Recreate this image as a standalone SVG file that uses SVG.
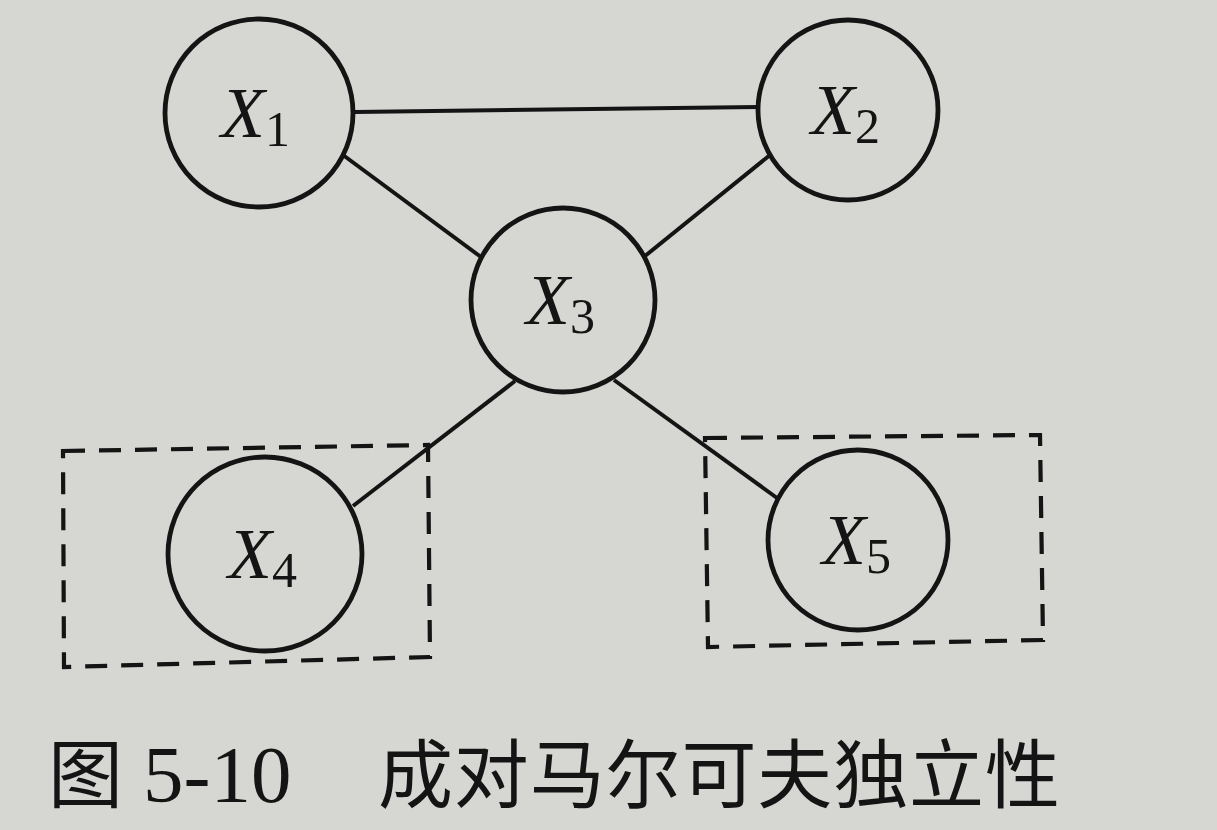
<svg xmlns="http://www.w3.org/2000/svg" width="1217" height="830" viewBox="0 0 1217 830">
<style>
.bg{fill:#d6d6d3}
.node{fill:none;stroke:#141414;stroke-width:4.8}
.edge{stroke:#141414;stroke-width:4;fill:none}
.box{fill:none;stroke:#141414;stroke-width:4.2;stroke-dasharray:22,14}
.lbl{font-family:"Liberation Serif",serif;font-style:italic;font-size:72px;fill:#141414}
.sub{font-style:normal;font-size:50px}
.cap{font-family:"Liberation Serif","Noto Sans CJK SC",serif;font-size:81px;fill:#141414}
.capzh{font-family:"Noto Sans CJK SC",sans-serif;font-size:75px;fill:#141414}
</style>
<rect class="bg" x="0" y="0" width="1217" height="830"/>
<g id="connectors">
<line class="edge" x1="355" y1="112" x2="758" y2="107"/>
<line class="edge" x1="343" y1="155" x2="481" y2="257"/>
<line class="edge" x1="770" y1="155" x2="645" y2="256"/>
<line class="edge" x1="515" y1="381" x2="353" y2="506"/>
<line class="edge" x1="614" y1="380" x2="777" y2="498"/>
</g>
<g id="box4"><path class="box" d="M63,451 L428,445 L430,657 L64,667 Z"/></g>
<g id="box5"><path class="box" d="M705,438 L1040,435 L1043,640 L708,647 Z"/></g>
<g id="X1"><circle class="node" cx="259" cy="113" r="94"/><text class="lbl" x="221" y="137">X<tspan class="sub" dy="9">1</tspan></text></g>
<g id="X2"><circle class="node" cx="848" cy="110" r="90"/><text class="lbl" x="811" y="134">X<tspan class="sub" dy="9">2</tspan></text></g>
<g id="X3"><circle class="node" cx="563" cy="300" r="92"/><text class="lbl" x="526" y="324">X<tspan class="sub" dy="9">3</tspan></text></g>
<g id="X4"><circle class="node" cx="265" cy="554" r="97"/><text class="lbl" x="228" y="578">X<tspan class="sub" dy="9">4</tspan></text></g>
<g id="X5"><circle class="node" cx="858" cy="540" r="90"/><text class="lbl" x="822" y="564">X<tspan class="sub" dy="9">5</tspan></text></g>
<g id="caption">
<text class="capzh" x="48" y="802">图</text>
<text class="cap" x="143" y="802">5-10</text>
<text class="capzh" x="378" y="802" textLength="682">成对马尔可夫独立性</text>
</g>
</svg>
